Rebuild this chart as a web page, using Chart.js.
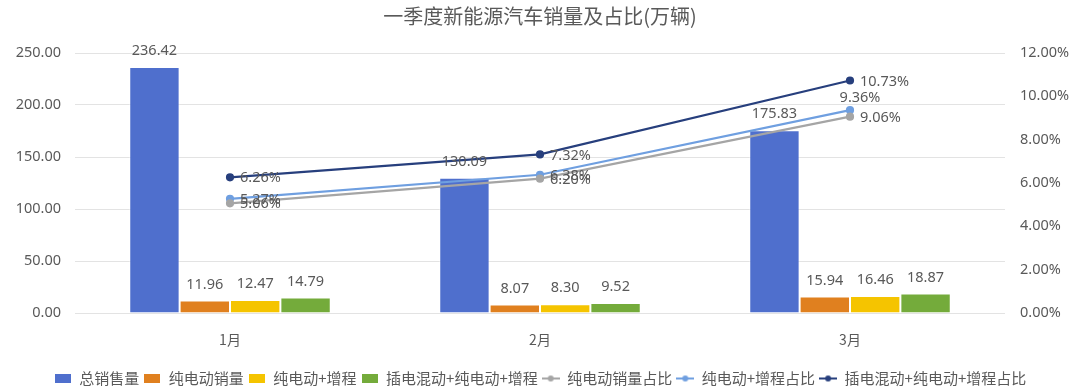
<!DOCTYPE html>
<html>
<head>
<meta charset="utf-8">
<script src="https://cdn.jsdelivr.net/npm/chart.js@4.4.1/dist/chart.umd.min.js"></script>
<style>
  html, body { margin: 0; padding: 0; background: #fff; }
  #wrap { width: 1080px; height: 390px; }
</style>
</head>
<body>
<div id="wrap"><canvas id="chart"></canvas></div>
<script>
// 一季度新能源汽车销量及占比 — bars in 万辆 (left), shares in % (right)
const MONTHS = ["1月", "2月", "3月"];
const TOTAL_SALES = [236.42, 130.09, 175.83];
const BEV_SALES = [11.96, 8.07, 15.94];
const BEV_EREV_SALES = [12.47, 8.30, 16.46];
const PHEV_BEV_EREV_SALES = [14.79, 9.52, 18.87];
const BEV_SHARE = [5.06, 6.20, 9.06];
const BEV_EREV_SHARE = [5.27, 6.38, 9.36];
const PHEV_BEV_EREV_SHARE = [6.26, 7.32, 10.73];
const LEFT_TICKS = [0, 50, 100, 150, 200, 250];
const RIGHT_TICKS = [0, 2, 4, 6, 8, 10, 12];

const TEXT = "#595959";
const NUM_FONT = '"Noto Sans", "Noto Sans CJK SC", sans-serif';
const CJK_FONT = '"Noto Sans CJK SC", "Noto Sans", sans-serif';

const COLORS = {
  total: "#4f6fcd",
  bev: "#e0801f",
  erev: "#f5c400",
  phev: "#74ab3b",
  bevPct: "#a5a5a5",
  erevPct: "#6f9fe0",
  phevPct: "#273f7d",
};

// little legend icons: filled box for bars, line + dot for lines
function boxIcon(color) {
  const c = document.createElement("canvas");
  c.width = 16; c.height = 9;
  const g = c.getContext("2d");
  g.fillStyle = color;
  g.fillRect(0, 0, 16, 9);
  return c;
}
function lineIcon(color) {
  const c = document.createElement("canvas");
  c.width = 18; c.height = 8;
  const g = c.getContext("2d");
  g.strokeStyle = color;
  g.lineWidth = 2;
  g.beginPath(); g.moveTo(0, 4); g.lineTo(18, 4); g.stroke();
  g.fillStyle = color;
  g.beginPath(); g.arc(9, 4, 3, 0, Math.PI * 2); g.fill();
  return c;
}

function barSet(label, data, color) {
  return {
    type: "bar",
    label,
    data,
    yAxisID: "y",
    backgroundColor: color,
    borderColor: "rgba(255,255,255,0.5)",
    borderWidth: 1,
    order: 2,
    icon: boxIcon(color),
  };
}
function lineSet(label, data, color, labelPos) {
  return {
    type: "line",
    label,
    data,
    yAxisID: "y1",
    borderColor: color,
    backgroundColor: color,
    borderWidth: 2.2,
    pointRadius: 3,
    pointBackgroundColor: color,
    pointBorderColor: color,
    tension: 0,
    order: 1,
    labelPos,
    icon: lineIcon(color),
  };
}

const datasets = [
  barSet("总销售量", TOTAL_SALES, COLORS.total),
  barSet("纯电动销量", BEV_SALES, COLORS.bev),
  barSet("纯电动+增程", BEV_EREV_SALES, COLORS.erev),
  barSet("插电混动+纯电动+增程", PHEV_BEV_EREV_SALES, COLORS.phev),
  lineSet("纯电动销量占比", BEV_SHARE, COLORS.bevPct, ["right", "right", "right"]),
  lineSet("纯电动+增程占比", BEV_EREV_SHARE, COLORS.erevPct, ["right", "right", "top"]),
  lineSet("插电混动+纯电动+增程占比", PHEV_BEV_EREV_SHARE, COLORS.phevPct, ["right", "right", "right"]),
];

// value labels drawn straight on the canvas (no datalabels plugin available)
const valueLabels = {
  id: "valueLabels",
  afterDatasetsDraw(chart) {
    const ctx = chart.ctx;
    ctx.save();
    ctx.font = "14.5px " + NUM_FONT;
    ctx.fillStyle = TEXT;
    ctx.textBaseline = "middle";
    chart.data.datasets.forEach((ds, i) => {
      const meta = chart.getDatasetMeta(i);
      meta.data.forEach((el, j) => {
        const v = ds.data[j];
        if (ds.type === "line") {
          const txt = v.toFixed(2) + "%";
          if (ds.labelPos[j] === "top") {
            ctx.textAlign = "center";
            ctx.fillText(txt, el.x + 10, el.y - 12);
          } else {
            ctx.textAlign = "left";
            ctx.fillText(txt, el.x + 10, el.y + 1);
          }
        } else {
          ctx.textAlign = "center";
          ctx.fillText(v.toFixed(2), el.x, el.y - 16);
        }
      });
    });
    ctx.restore();
  },
};

new Chart(document.getElementById("chart"), {
  data: { labels: MONTHS, datasets },
  plugins: [valueLabels],
  options: {
    responsive: true,
    maintainAspectRatio: false,
    animation: false,
    layout: { padding: { left: 10, right: 10, top: 0, bottom: -6 } },
    plugins: {
      title: {
        display: true,
        text: "一季度新能源汽车销量及占比(万辆)",
        color: TEXT,
        font: { family: CJK_FONT, size: 20, weight: "normal" },
        padding: { top: 4, bottom: 25 },
      },
      legend: {
        position: "bottom",
        labels: {
          color: TEXT,
          font: { family: CJK_FONT, size: 15 },
          usePointStyle: true,
          pointStyleWidth: 18,
          padding: 4,
          sort: (a, b) => a.datasetIndex - b.datasetIndex,
          generateLabels: (chart) =>
            Chart.defaults.plugins.legend.labels.generateLabels(chart).map((l) => ({
              ...l,
              pointStyle: chart.data.datasets[l.datasetIndex].icon,
            })),
        },
      },
      tooltip: { enabled: false },
    },
    datasets: {
      bar: { categoryPercentage: 0.65, barPercentage: 1 },
    },
    scales: {
      x: {
        grid: { display: false, drawTicks: false },
        border: { display: false },
        afterFit: (s) => { s.height = 54; },
        ticks: { color: TEXT, font: { family: CJK_FONT, size: 14 }, padding: 18 },
      },
      y: {
        position: "left",
        min: 0,
        max: 250,
        afterBuildTicks: (s) => { s.ticks = LEFT_TICKS.map((v) => ({ value: v })); },
        afterFit: (s) => { s.width = 65; },
        grid: { color: "#e3e3e3", drawTicks: false },
        border: { display: false },
        ticks: {
          color: TEXT,
          font: { family: NUM_FONT, size: 14.5 },
          padding: 14,
          callback: (v) => Number(v).toFixed(2),
        },
      },
      y1: {
        position: "right",
        min: 0,
        max: 12,
        afterBuildTicks: (s) => { s.ticks = RIGHT_TICKS.map((v) => ({ value: v })); },
        afterFit: (s) => { s.width = 65; },
        grid: { display: false, drawTicks: false },
        border: { display: false },
        ticks: {
          color: TEXT,
          font: { family: NUM_FONT, size: 14.5 },
          padding: 15,
          callback: (v) => Number(v).toFixed(2) + "%",
        },
      },
    },
  },
});
</script>
</body>
</html>
